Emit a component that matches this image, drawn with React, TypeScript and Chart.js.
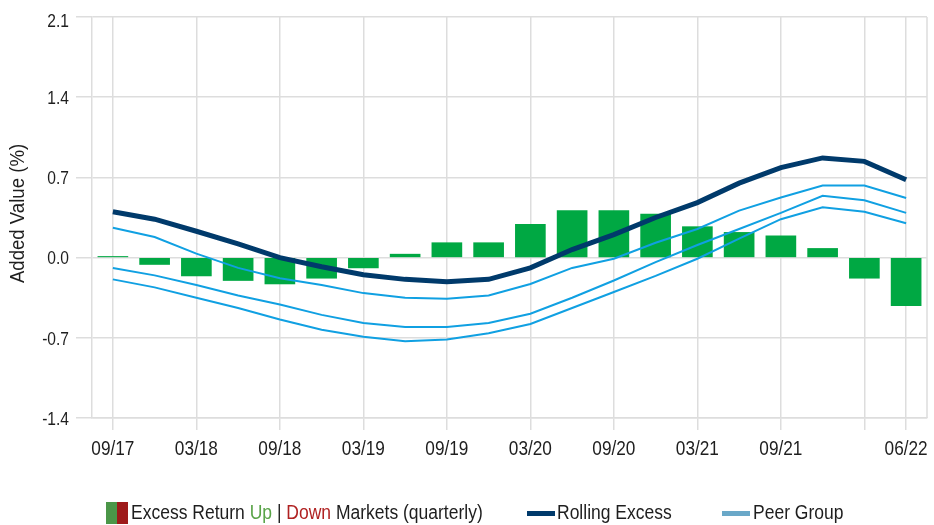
import React, { useEffect, useRef } from 'react';
import { Chart, registerables } from 'chart.js';

Chart.register(...registerables);

const labels = ['09/17', '12/17', '03/18', '06/18', '09/18', '12/18', '03/19', '06/19', '09/19', '12/19',
  '03/20', '06/20', '09/20', '12/20', '03/21', '06/21', '09/21', '12/21', '03/22', '06/22'];

const excessReturn = [0.01, -0.06, -0.16, -0.2, -0.23, -0.18, -0.09, 0.03, 0.13, 0.13,
  0.29, 0.41, 0.41, 0.38, 0.27, 0.22, 0.19, 0.08, -0.18, -0.42];

const rollingExcess = [0.4, 0.335, 0.23, 0.12, 0.0, -0.08, -0.15, -0.19, -0.21, -0.19,
  -0.09, 0.07, 0.2, 0.35, 0.48, 0.65, 0.785, 0.87, 0.84, 0.68];

const peerUpper = [0.26, 0.18, 0.035, -0.09, -0.18, -0.24, -0.31, -0.35, -0.36, -0.33,
  -0.23, -0.09, -0.01, 0.13, 0.25, 0.41, 0.525, 0.63, 0.63, 0.52];

const peerMedian = [-0.09, -0.155, -0.24, -0.33, -0.41, -0.5, -0.57, -0.605, -0.605, -0.57,
  -0.49, -0.35, -0.2, -0.04, 0.11, 0.25, 0.39, 0.54, 0.5, 0.39];

const peerLower = [-0.19, -0.26, -0.35, -0.44, -0.54, -0.63, -0.69, -0.73, -0.715, -0.66,
  -0.58, -0.44, -0.3, -0.16, -0.01, 0.165, 0.335, 0.44, 0.4, 0.3];

const yTicks = [-1.4, -0.7, 0.0, 0.7, 1.4, 2.1];

const yTitle = 'Added Value (%)';

const FONT = "'Liberation Sans', Arial, sans-serif";
const NARROW = 0.82;
const LEGEND_NARROW = 0.875;
const GRID = '#dddddd';
const TEXT = '#1e1e1e';
const GREEN = '#00a843';
const NAVY = '#003a6b';
const LIGHT = '#10a0e2';

// which x ticks carry a gridline (every half-year, plus the last quarter)
const showXTick = (i: number) => i % 2 === 0 || i === labels.length - 1;
// which x ticks carry a label (03/22 is left blank, as in the source)
const xTickLabel = (i: number) => {
  if (i === labels.length - 1) return labels[i];
  if (i === labels.length - 2) return '';
  return i % 2 === 0 ? labels[i] : '';
};

function narrowText(ctx: CanvasRenderingContext2D, text: string, x: number, y: number,
  align: CanvasTextAlign, sx: number, rot = 0) {
  ctx.save();
  ctx.translate(x, y);
  if (rot) ctx.rotate(rot);
  ctx.scale(sx, 1);
  ctx.textAlign = align;
  ctx.fillText(text, 0, 0);
  ctx.restore();
}

const framePlugin = {
  id: 'framePlugin',
  beforeDatasetsDraw(chart: any) {
    const { ctx, chartArea } = chart;
    ctx.save();
    ctx.strokeStyle = GRID;
    ctx.lineWidth = 1.5;
    ctx.beginPath();
    ctx.moveTo(chartArea.right, chartArea.top);
    ctx.lineTo(chartArea.right, chartArea.bottom);
    ctx.stroke();
    ctx.restore();
  },
  afterDraw(chart: any) {
    const { ctx, chartArea } = chart;
    const xs = chart.scales.x;
    const ys = chart.scales.y;
    ctx.save();
    ctx.fillStyle = TEXT;
    ctx.textBaseline = 'alphabetic';
    // x tick labels
    ctx.font = `21px ${FONT}`;
    xs.ticks.forEach((_t: any, i: number) => {
      const txt = xTickLabel(i);
      if (!txt) return;
      narrowText(ctx, txt, xs.getPixelForTick(i), chartArea.bottom + 36.5, 'center', NARROW);
    });
    // y tick labels
    ctx.font = `19px ${FONT}`;
    ys.ticks.forEach((t: any, i: number) => {
      const y = ys.getPixelForTick(i);
      const base = Math.max(y + 6.8, chartArea.top + 9.5);
      narrowText(ctx, Number(t.value).toFixed(1), 69, base, 'right', NARROW);
    });
    // y title
    ctx.font = `20px ${FONT}`;
    ctx.textBaseline = 'middle';
    narrowText(ctx, yTitle, 18, (chartArea.top + chartArea.bottom) / 2 - 4, 'center', 0.93, -Math.PI / 2);
    ctx.restore();
  },
};

export default function App() {
  const canvasRef = useRef<HTMLCanvasElement | null>(null);

  useEffect(() => {
    if (!canvasRef.current) return;
    const lineDs = (label: string, data: number[], color: string, width: number) => ({
      type: 'line' as const,
      label,
      data,
      borderColor: color,
      backgroundColor: color,
      borderWidth: width,
      pointRadius: 0,
      tension: 0,
      fill: false,
      order: 1,
    });
    const chart = new Chart(canvasRef.current, {
      type: 'bar',
      data: {
        labels,
        datasets: [
          {
            type: 'bar',
            label: 'Excess Return',
            data: excessReturn,
            backgroundColor: GREEN,
            borderWidth: 0,
            barThickness: 30,
            order: 10,
          } as any,
          lineDs('Peer Group Lower', peerLower, LIGHT, 2),
          lineDs('Peer Group Median', peerMedian, LIGHT, 2),
          lineDs('Peer Group Upper', peerUpper, LIGHT, 2),
          lineDs('Rolling Excess', rollingExcess, NAVY, 5),
        ],
      },
      options: {
        animation: false,
        responsive: true,
        maintainAspectRatio: false,
        layout: { padding: { top: 17, right: 7, left: 0, bottom: 0 } },
        plugins: {
          legend: { display: false },
          tooltip: { enabled: false },
        },
        scales: {
          x: {
            offset: true,
            grid: {
              offset: false,
              color: (ctx: any) => (showXTick(ctx.index) ? GRID : 'rgba(0,0,0,0)'),
              lineWidth: 1.5,
              tickLength: 12,
            },
            border: { color: GRID, width: 1.5 },
            ticks: { display: false, autoSkip: false },
            afterFit: (s: any) => {
              s.height = 107;
            },
          },
          y: {
            min: -1.4,
            max: 2.1,
            afterBuildTicks: (s: any) => {
              s.ticks = yTicks.map((v) => ({ value: v }));
            },
            grid: {
              color: GRID,
              lineWidth: 1.5,
              tickLength: 16,
            },
            border: { color: GRID, width: 1.5 },
            ticks: { display: false },
            title: { display: false },
            afterFit: (s: any) => {
              s.width = 92;
            },
          },
        },
      },
      plugins: [framePlugin],
    });
    return () => chart.destroy();
  }, []);

  const textStyle: React.CSSProperties = {
    position: 'absolute',
    top: 500,
    fontFamily: FONT,
    fontSize: 20,
    lineHeight: '24px',
    color: TEXT,
    whiteSpace: 'nowrap',
    transform: `scaleX(${LEGEND_NARROW})`,
    transformOrigin: 'left center',
  };

  return (
    <div style={{ position: 'fixed', left: 0, top: 0, width: 934, height: 525, background: '#ffffff', overflow: 'hidden' }}>
      <canvas ref={canvasRef} style={{ position: 'absolute', left: 0, top: 0 }} />
      <div style={{ position: 'absolute', left: 106, top: 502, width: 11, height: 22, background: '#4b9648' }} />
      <div style={{ position: 'absolute', left: 117, top: 502, width: 11, height: 22, background: '#9e1a1a' }} />
      <div style={{ ...textStyle, left: 131 }}>
        Excess Return <span style={{ color: '#58a347' }}>Up</span> | <span style={{ color: '#b02222' }}>Down</span> Markets (quarterly)
      </div>
      <div style={{ position: 'absolute', left: 527, top: 511, width: 28, height: 5, background: NAVY }} />
      <div style={{ ...textStyle, left: 557 }}>Rolling Excess</div>
      <div style={{ position: 'absolute', left: 722, top: 511, width: 28, height: 5, background: '#6aa8c8' }} />
      <div style={{ ...textStyle, left: 753 }}>Peer Group</div>
    </div>
  );
}
